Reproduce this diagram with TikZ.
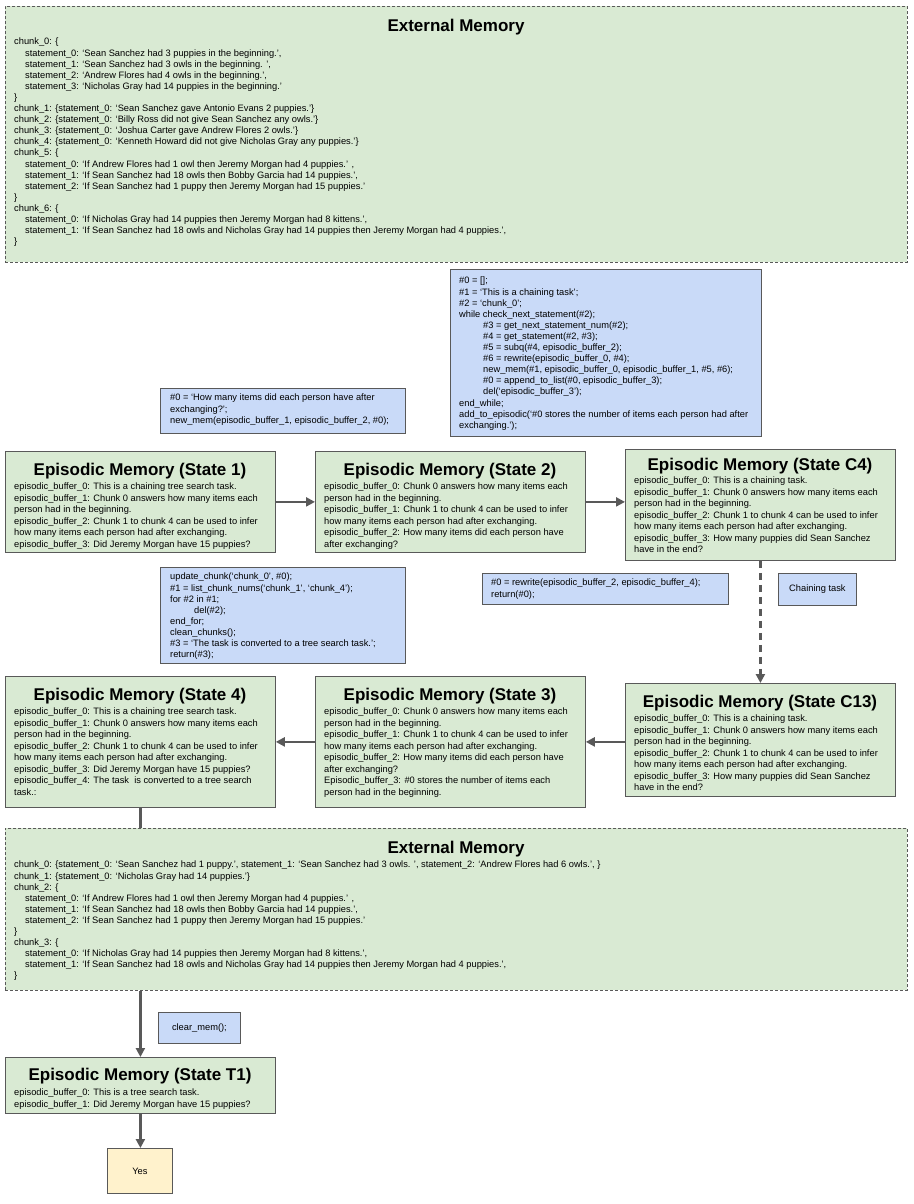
\documentclass[tikz,border=0pt]{standalone}
\usepackage{fontspec}
\setmainfont{Liberation Sans}
\usetikzlibrary{arrows.meta}
\definecolor{gfill}{HTML}{D9EAD3}
\definecolor{bfill}{HTML}{C9DAF8}
\definecolor{yfill}{HTML}{FFF2CC}
\definecolor{edge}{HTML}{595959}
\begin{document}
\begin{tikzpicture}[x=1pt,y=-1pt,
  box/.style={draw=edge, line width=0.8pt, anchor=north west, inner sep=0pt},
  gbox/.style={box, fill=gfill},
  bbox/.style={box, fill=bfill},
  membox/.style={draw=edge, fill=gfill, line width=0.7pt, dash pattern=on 3pt off 2pt, anchor=north west, inner sep=0pt},
  ttl/.style={font=\fontsize{17}{20}\selectfont\bfseries, inner sep=0pt},
  body/.style={font=\fontsize{9.3}{11.5}\selectfont, align=left, anchor=north west, inner sep=0pt},
  membody/.style={font=\fontsize{9.3}{11.1}\selectfont, align=left, anchor=north west, inner sep=0pt},
  codebody/.style={font=\fontsize{9.3}{11.1}\selectfont, align=left, anchor=north west, inner sep=0pt},
  conn/.style={draw=edge, line width=2.2pt, -{Triangle[length=9pt,width=9pt]}},
  dconn/.style={conn, dash pattern=on 7pt off 5pt},
  plain/.style={draw=edge, line width=2.2pt},
]
\useasboundingbox (0,0) rectangle (913,1204);
\fill[white] (0,0) rectangle (913,1204);

% ---------- top external memory ----------
\node[membox, minimum width=902pt, minimum height=256pt] (mem1) at (5,6) {};
\node[ttl] (mem1t) at (456,27) {External Memory};
\node[membody] (mem1b) at (14,38) {chunk\_0: \{\\
\hspace*{11pt}statement\_0: ‘Sean Sanchez had 3 puppies in the beginning.’,\\
\hspace*{11pt}statement\_1: ‘Sean Sanchez had 3 owls in the beginning. ’,\\
\hspace*{11pt}statement\_2: ‘Andrew Flores had 4 owls in the beginning.’,\\
\hspace*{11pt}statement\_3: ‘Nicholas Gray had 14 puppies in the beginning.’\\
\}\\
chunk\_1: \{statement\_0: ‘Sean Sanchez gave Antonio Evans 2 puppies.’\}\\
chunk\_2: \{statement\_0: ‘Billy Ross did not give Sean Sanchez any owls.’\}\\
chunk\_3: \{statement\_0: ‘Joshua Carter gave Andrew Flores 2 owls.’\}\\
chunk\_4: \{statement\_0: ‘Kenneth Howard did not give Nicholas Gray any puppies.’\}\\
chunk\_5: \{\\
\hspace*{11pt}statement\_0: ‘If Andrew Flores had 1 owl then Jeremy Morgan had 4 puppies.’ ,\\
\hspace*{11pt}statement\_1: ‘If Sean Sanchez had 18 owls then Bobby Garcia had 14 puppies.’,\\
\hspace*{11pt}statement\_2: ‘If Sean Sanchez had 1 puppy then Jeremy Morgan had 15 puppies.’\\
\}\\
chunk\_6: \{\\
\hspace*{11pt}statement\_0: ‘If Nicholas Gray had 14 puppies then Jeremy Morgan had 8 kittens.’,\\
\hspace*{11pt}statement\_1: ‘If Sean Sanchez had 18 owls and Nicholas Gray had 14 puppies then Jeremy Morgan had 4 puppies.’,\\
\}};

% ---------- code boxes upper ----------
\node[bbox, minimum width=245pt, minimum height=45pt] (cb1) at (160,388) {};
\node[codebody] (cb1b) at (170,394) {\#0 = ‘How many items did each person have after\\
exchanging?’;\\
new\_mem(episodic\_buffer\_1, episodic\_buffer\_2, \#0);};

\node[bbox, minimum width=311pt, minimum height=167pt] (cb2) at (450,269) {};
\node[codebody] (cb2b) at (459,277) {\#0 = [];\\
\#1 = ‘This is a chaining task’;\\
\#2 = ‘chunk\_0’;\\
while check\_next\_statement(\#2);\\
\hspace*{24pt}\#3 = get\_next\_statement\_num(\#2);\\
\hspace*{24pt}\#4 = get\_statement(\#2, \#3);\\
\hspace*{24pt}\#5 = subq(\#4, episodic\_buffer\_2);\\
\hspace*{24pt}\#6 = rewrite(episodic\_buffer\_0, \#4);\\
\hspace*{24pt}new\_mem(\#1, episodic\_buffer\_0, episodic\_buffer\_1, \#5, \#6);\\
\hspace*{24pt}\#0 = append\_to\_list(\#0, episodic\_buffer\_3);\\
\hspace*{24pt}del(‘episodic\_buffer\_3’);\\
end\_while;\\
add\_to\_episodic(‘\#0 stores the number of items each person had after\\
exchanging.’);};

% ---------- state row 1 ----------
\node[gbox, minimum width=270pt, minimum height=101pt] (s1) at (5,451) {};
\node[ttl] (s1t) at (140,471) {Episodic Memory (State 1)};
\node[body] (s1b) at (14,483) {episodic\_buffer\_0: This is a chaining tree search task.\\
episodic\_buffer\_1: Chunk 0 answers how many items each\\
person had in the beginning.\\
episodic\_buffer\_2: Chunk 1 to chunk 4 can be used to infer\\
how many items each person had after exchanging.\\
episodic\_buffer\_3: Did Jeremy Morgan have 15 puppies?};

\node[gbox, minimum width=270pt, minimum height=101pt] (s2) at (315,451) {};
\node[ttl] (s2t) at (450,471) {Episodic Memory (State 2)};
\node[body] (s2b) at (324,483) {episodic\_buffer\_0: Chunk 0 answers how many items each\\
person had in the beginning.\\
episodic\_buffer\_1: Chunk 1 to chunk 4 can be used to infer\\
how many items each person had after exchanging.\\
episodic\_buffer\_2: How many items did each person have\\
after exchanging?};

\node[gbox, minimum width=270pt, minimum height=111pt] (c4) at (625,449) {};
\node[ttl] (c4t) at (760,466) {Episodic Memory (State C4)};
\node[body] (c4b) at (634,477) {episodic\_buffer\_0: This is a chaining task.\\
episodic\_buffer\_1: Chunk 0 answers how many items each\\
person had in the beginning.\\
episodic\_buffer\_2: Chunk 1 to chunk 4 can be used to infer\\
how many items each person had after exchanging.\\
episodic\_buffer\_3: How many puppies did Sean Sanchez\\
have in the end?};

% ---------- middle code boxes ----------
\node[bbox, minimum width=245pt, minimum height=96pt] (cb3) at (160,567) {};
\node[codebody] (cb3b) at (170,573) {update\_chunk(‘chunk\_0’, \#0);\\
\#1 = list\_chunk\_nums(‘chunk\_1’, ‘chunk\_4’);\\
for \#2 in \#1;\\
\hspace*{24pt}del(\#2);\\
end\_for;\\
clean\_chunks();\\
\#3 = ‘The task is converted to a tree search task.’;\\
return(\#3);};

\node[bbox, minimum width=246pt, minimum height=31pt] (cb4) at (482,573) {};
\node[codebody] (cb4b) at (491,579) {\#0 = rewrite(episodic\_buffer\_2, episodic\_buffer\_4);\\
return(\#0);};

\node[bbox, minimum width=78pt, minimum height=32pt] (chain) at (778,573) {};
\node[font=\fontsize{9.3}{11}\selectfont, inner sep=0pt] (chaint) at (chain.center) {Chaining task};

% ---------- state row 2 ----------
\node[gbox, minimum width=270pt, minimum height=113pt] (c13) at (625,683) {};
\node[ttl] (c13t) at (760,703) {Episodic Memory (State C13)};
\node[body] (c13b) at (634,715) {episodic\_buffer\_0: This is a chaining task.\\
episodic\_buffer\_1: Chunk 0 answers how many items each\\
person had in the beginning.\\
episodic\_buffer\_2: Chunk 1 to chunk 4 can be used to infer\\
how many items each person had after exchanging.\\
episodic\_buffer\_3: How many puppies did Sean Sanchez\\
have in the end?};

\node[gbox, minimum width=270pt, minimum height=131pt] (s3) at (315,676) {};
\node[ttl] (s3t) at (450,696) {Episodic Memory (State 3)};
\node[body] (s3b) at (324,708) {episodic\_buffer\_0: Chunk 0 answers how many items each\\
person had in the beginning.\\
episodic\_buffer\_1: Chunk 1 to chunk 4 can be used to infer\\
how many items each person had after exchanging.\\
episodic\_buffer\_2: How many items did each person have\\
after exchanging?\\
Episodic\_buffer\_3: \#0 stores the number of items each\\
person had in the beginning.};

\node[gbox, minimum width=270pt, minimum height=131pt] (s4) at (5,676) {};
\node[ttl] (s4t) at (140,696) {Episodic Memory (State 4)};
\node[body] (s4b) at (14,708) {episodic\_buffer\_0: This is a chaining tree search task.\\
episodic\_buffer\_1: Chunk 0 answers how many items each\\
person had in the beginning.\\
episodic\_buffer\_2: Chunk 1 to chunk 4 can be used to infer\\
how many items each person had after exchanging.\\
episodic\_buffer\_3: Did Jeremy Morgan have 15 puppies?\\
episodic\_buffer\_4: The task\ \ is converted to a tree search\\
task.:};

% ---------- bottom external memory ----------
\node[membox, minimum width=902pt, minimum height=162pt] (mem2) at (5,828) {};
\node[ttl] (mem2t) at (456,849) {External Memory};
\node[membody] (mem2b) at (14,861) {chunk\_0: \{statement\_0: ‘Sean Sanchez had 1 puppy.’, statement\_1: ‘Sean Sanchez had 3 owls. ’, statement\_2: ‘Andrew Flores had 6 owls.’, \}\\
chunk\_1: \{statement\_0: ‘Nicholas Gray had 14 puppies.’\}\\
chunk\_2: \{\\
\hspace*{11pt}statement\_0: ‘If Andrew Flores had 1 owl then Jeremy Morgan had 4 puppies.’ ,\\
\hspace*{11pt}statement\_1: ‘If Sean Sanchez had 18 owls then Bobby Garcia had 14 puppies.’,\\
\hspace*{11pt}statement\_2: ‘If Sean Sanchez had 1 puppy then Jeremy Morgan had 15 puppies.’\\
\}\\
chunk\_3: \{\\
\hspace*{11pt}statement\_0: ‘If Nicholas Gray had 14 puppies then Jeremy Morgan had 8 kittens.’,\\
\hspace*{11pt}statement\_1: ‘If Sean Sanchez had 18 owls and Nicholas Gray had 14 puppies then Jeremy Morgan had 4 puppies.’,\\
\}};

% ---------- final part ----------
\node[bbox, minimum width=82pt, minimum height=31pt] (clr) at (158,1012) {};
\node[font=\fontsize{9.3}{11}\selectfont, inner sep=0pt] (clrt) at (clr.center) {clear\_mem();};

\node[gbox, minimum width=270pt, minimum height=56pt] (t1) at (5,1057) {};
\node[ttl] (t1t) at (140,1076) {Episodic Memory (State T1)};
\node[body] (t1b) at (14,1089) {episodic\_buffer\_0: This is a tree search task.\\
episodic\_buffer\_1: Did Jeremy Morgan have 15 puppies?};

\node[box, fill=yfill, minimum width=65pt, minimum height=45pt] (yes) at (107,1148) {};
\node[font=\fontsize{9.3}{11}\selectfont, inner sep=0pt] (yest) at (yes.center) {Yes};

% ---------- connectors ----------
\draw[conn] (s1.east) -- (s2.west);
\draw[conn] (s2.east) -- (s2.east -| c4.west);
\draw[dconn] (c4.south) -- (c13.north);
\draw[conn] (s3.east -| c13.west) -- (s3.east);
\draw[conn] (s3.west) -- (s4.east);
\draw[plain] (s4.south) -- (s4.south |- mem2.north);
\draw[conn] (mem2.south -| t1.north) -- (t1.north);
\draw[conn] (t1.south) -- (t1.south |- yes.north);
\end{tikzpicture}
\end{document}
